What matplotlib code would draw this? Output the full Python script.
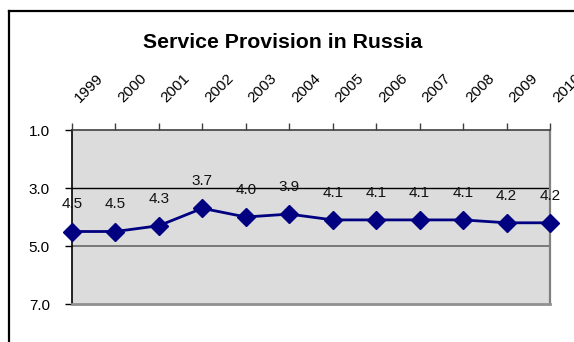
import matplotlib
matplotlib.use("Agg")
import matplotlib.pyplot as plt
from matplotlib.lines import Line2D

years = ["1999", "2000", "2001", "2002", "2003", "2004", "2005", "2006", "2007", "2008", "2009", "2010"]
values = [4.5, 4.5, 4.3, 3.7, 4.0, 3.9, 4.1, 4.1, 4.1, 4.1, 4.2, 4.2]
yticks = [1.0, 3.0, 5.0, 7.0]

plt.rcParams['font.family'] = ['Liberation Sans', 'DejaVu Sans']

W, H = 574, 342
fig = plt.figure(figsize=(W / 100, H / 100), dpi=100)
fig.patch.set_facecolor('white')

# outer chart frame (left and top visible)
fig.add_artist(Line2D([8.5 / W, 8.5 / W], [-0.1, (H - 10.5) / H], transform=fig.transFigure,
                      color='black', lw=1.6))
fig.add_artist(Line2D([8.5 / W, 1.1], [(H - 10.5) / H, (H - 10.5) / H], transform=fig.transFigure,
                      color='black', lw=1.6))

left, right, top, bottom = 72, 550, 130, 304
ax = fig.add_axes([left / W, (H - bottom) / H, (right - left) / W, (bottom - top) / H])
ax.set_facecolor('#dcdcdc')

x = list(range(len(years)))
ax.plot(x, values, color='#000080', lw=2, marker='D', markersize=9.5, clip_on=False, zorder=3)

for xi, v in zip(x, values):
    ax.annotate(f"{v:.1f}", (xi, v), xytext=(0, 19.5), textcoords='offset points',
                ha='center', va='center', fontsize=11, color='#111111', zorder=4)

for g, c in [(3.0, 'black'), (5.0, '#707070')]:
    ax.axhline(g, color=c, lw=1.0 if g == 3.0 else 1.3, zorder=1)

ax.set_xlim(0, len(years) - 1)
ax.set_ylim(7.0, 1.0)
ax.set_yticks(yticks)
ax.set_yticklabels([f"{t:.1f}" for t in yticks], fontsize=11)
ax.tick_params(axis='y', direction='out', length=5, width=1, pad=11)

ax.xaxis.tick_top()
ax.set_xticks(x)
ax.set_xticklabels(years, fontsize=11, rotation=45, ha='left', va='top', rotation_mode='anchor')
ax.tick_params(axis='x', direction='out', length=5, width=1, pad=20, color='#404040')

ax.spines['left'].set_color('black')
ax.spines['left'].set_linewidth(1.2)
ax.spines['top'].set_color('#404040')
ax.spines['top'].set_linewidth(1.2)
ax.spines['right'].set_color('#808080')
ax.spines['right'].set_linewidth(1.6)
ax.spines['bottom'].set_color('#909090')
ax.spines['bottom'].set_linewidth(2)

fig.text(282.5 / W, (H - 43) / H, "Service Provision in Russia", ha='center', va='center',
         fontsize=15.3, fontweight='bold')

fig.savefig('out.png', dpi=100)
